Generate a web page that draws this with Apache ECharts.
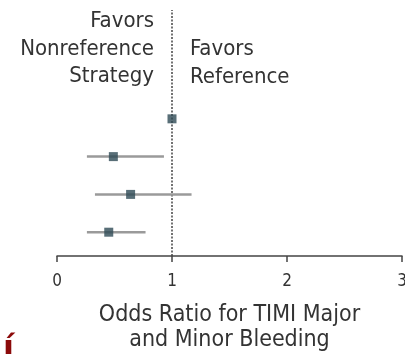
<!DOCTYPE html>
<html>
<head>
<meta charset="utf-8">
<script src="https://cdn.jsdelivr.net/npm/echarts@6/dist/echarts.min.js"></script>
<style>
  html, body { margin: 0; padding: 0; background: #fff; overflow: hidden; }
  #chart { width: 405px; height: 354px; }
</style>
</head>
<body>
<div id="chart"></div>
<script>
// Odds ratios with 95% confidence intervals, top row to bottom row
const rowPos = [4, 3, 2, 1];
const oddsRatio = [1.0, 0.49, 0.64, 0.45];
const ciLow = [null, 0.26, 0.33, 0.26];
const ciHigh = [null, 0.93, 1.17, 0.77];
const xTicks = [0, 1, 2, 3];

const FONT = '"DejaVu Sans Condensed", "DejaVu Sans"';
const TEXT = '#333';

const series = [];
// confidence interval whiskers
rowPos.forEach((y, i) => {
  if (ciLow[i] == null) return;
  series.push({
    type: 'line',
    data: [[ciLow[i], y], [ciHigh[i], y]],
    symbol: 'none',
    lineStyle: { color: '#9a9a9a', width: 2.5 },
    silent: true,
    z: 2
  });
});
// point estimates
series.push({
  type: 'scatter',
  data: rowPos.map((y, i) => [oddsRatio[i], y]),
  symbol: 'rect',
  symbolSize: 9,
  itemStyle: { color: '#2e4a55' },
  z: 5,
  // line of no effect
  markLine: {
    silent: true,
    symbol: 'none',
    label: { show: false },
    lineStyle: { color: '#444', type: [2, 1.5], width: 1.5 },
    data: [{ xAxis: 1 }],
    z: 1
  }
});

const chart = echarts.init(document.getElementById('chart'), null, { renderer: 'canvas', width: 405, height: 354 });
chart.setOption({
  animation: false,
  grid: { left: 57, right: 3, top: 10, bottom: 98, containLabel: false, outerBoundsMode: 'none' },
  xAxis: {
    type: 'value',
    min: xTicks[0],
    max: xTicks[xTicks.length - 1],
    interval: 1,
    axisLine: { lineStyle: { color: '#444', width: 1.5 } },
    axisTick: { show: true, length: 6, lineStyle: { color: '#444', width: 1.5 } },
    axisLabel: { color: TEXT, fontFamily: FONT, fontSize: 17, margin: 17 },
    splitLine: { show: false },
    name: 'Odds Ratio for TIMI Major\nand Minor Bleeding',
    nameLocation: 'middle',
    nameGap: 47,
    nameTextStyle: { color: TEXT, fontFamily: FONT, fontSize: 23, lineHeight: 25 }
  },
  yAxis: {
    type: 'value',
    min: 0.37,
    max: 6.88,
    show: false
  },
  graphic: [
    {
      type: 'text', x: 154, y: 8,
      style: {
        text: 'Favors\nNonreference\nStrategy',
        align: 'right', verticalAlign: 'top',
        fill: TEXT, font: '22px ' + FONT, lineHeight: 27.5
      }
    },
    {
      type: 'text', x: 190, y: 36,
      style: {
        text: 'Favors\nReference',
        align: 'left', verticalAlign: 'top',
        fill: TEXT, font: '22px ' + FONT, lineHeight: 27.5
      }
    },
    {
      type: 'text', x: 3, y: 334,
      style: { text: 'í', fill: '#8b0a0a', font: 'bold 32px "DejaVu Sans"' }
    }
  ],
  series: series
});
</script>
</body>
</html>
